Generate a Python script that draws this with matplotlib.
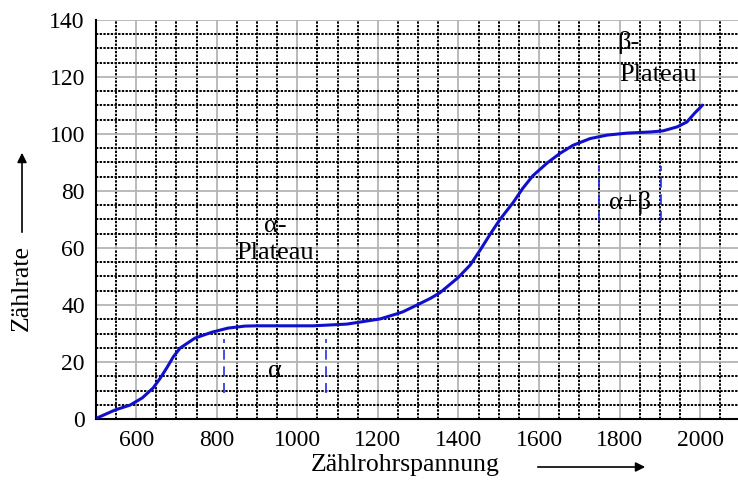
import matplotlib.pyplot as plt
import numpy as np

plt.rcParams['font.family'] = ['Liberation Serif', 'DejaVu Serif']

# Zählrohr-Kennlinie
spannung = [505, 548, 585, 615, 642, 660, 677, 692, 709, 746, 789, 828, 870,
            901, 1040, 1123, 1205, 1247, 1262, 1297, 1330, 1354, 1399, 1429,
            1454, 1479, 1503, 1536, 1560, 1585, 1620, 1652, 1684, 1727, 1769,
            1818, 1876, 1908, 1943, 1967, 1987, 2005]
rate = [0.5, 3.2, 4.9, 7.4, 10.9, 14.4, 18.2, 21.8, 24.9, 28.4, 30.5, 31.9, 32.6,
        32.7, 32.7, 33.3, 35.1, 36.9, 37.6, 40.0, 42.3, 44.3, 49.6, 54.0,
        59.3, 64.9, 70.0, 76.0, 81.0, 85.4, 89.8, 93.2, 96.0, 98.4, 99.6,
        100.3, 100.7, 101.1, 102.5, 104.2, 107.4, 110.0]

alpha_grenzen = [817, 1072]
alpha_y = [9, 28]
ab_grenzen = [1750, 1904]
ab_y = [69.5, 88.8]

xticks = [600, 800, 1000, 1200, 1400, 1600, 1800, 2000]
yticks = [0, 20, 40, 60, 80, 100, 120, 140]

fig = plt.figure(figsize=(7.38, 4.87), dpi=100)
ax = fig.add_axes([0.130, 0.1396, 0.870, 0.8194])

ax.set_xlim(500, 2094)
ax.set_ylim(0, 140)

# Gitter
for xv in np.arange(550, 2094, 50):
    if xv % 200 == 0:
        ax.axvline(xv, color='#b4b4b4', lw=1.3, zorder=1)
    else:
        ax.axvline(xv, color='black', lw=1.4, ls=(0, (1.2, 0.7)), zorder=1)
for yv in np.arange(5, 141, 5):
    if yv % 20 == 0:
        ax.axhline(yv, color='#b4b4b4', lw=1.3, zorder=1)
    else:
        ax.axhline(yv, color='black', lw=1.4, ls=(0, (1.2, 0.7)), zorder=1)

ax.plot(spannung, rate, color='#1010cc', lw=2.2, zorder=3,
        solid_joinstyle='round')

for xv in alpha_grenzen:
    ax.plot([xv, xv], alpha_y, color='#2030dd', lw=1.2, ls=(0, (6, 4)), zorder=3)
for xv in ab_grenzen:
    ax.plot([xv, xv], ab_y, color='#2030dd', lw=1.2, ls=(0, (6, 4)), zorder=3)

fs = 19
ax.text(945, 16.8, 'α', fontsize=fs, ha='center', va='center', zorder=4)
ax.text(945, 67.7, 'α-', fontsize=fs, ha='center', va='center', zorder=4)
ax.text(945, 58.2, 'Plateau', fontsize=fs, ha='center', va='center', zorder=4)
ax.text(1827, 75.8, 'α+β', fontsize=fs, ha='center', va='center', zorder=4)
ax.text(1822, 132, 'β-', fontsize=fs, ha='center', va='center', zorder=4)
ax.text(1896, 120.7, 'Plateau', fontsize=fs, ha='center', va='center', zorder=4)

ax.set_xticks(xticks)
ax.set_yticks(yticks)
ax.tick_params(labelsize=17, length=0, pad=8)
for s in ['top', 'right']:
    ax.spines[s].set_visible(False)
ax.spines['left'].set_linewidth(1.5)
ax.spines['bottom'].set_linewidth(1.5)

fig.text(405 / 738, 1 - 465 / 487, 'Zählrohrspannung', fontsize=18.5,
         ha='center', va='center')
fig.text(22 / 738, 1 - 288 / 487, 'Zählrate', fontsize=18.5, rotation=90,
         ha='center', va='center')
ax.annotate('', xy=(648 / 738, 1 - 467 / 487), xytext=(535 / 738, 1 - 467 / 487),
            xycoords='figure fraction', textcoords='figure fraction',
            arrowprops=dict(arrowstyle='-|>', color='black', lw=1.2,
                            mutation_scale=14))
ax.annotate('', xy=(22 / 738, 1 - 150 / 487), xytext=(22 / 738, 1 - 235 / 487),
            xycoords='figure fraction', textcoords='figure fraction',
            arrowprops=dict(arrowstyle='-|>', color='black', lw=1.2,
                            mutation_scale=14))

fig.savefig('out.png', dpi=100)
